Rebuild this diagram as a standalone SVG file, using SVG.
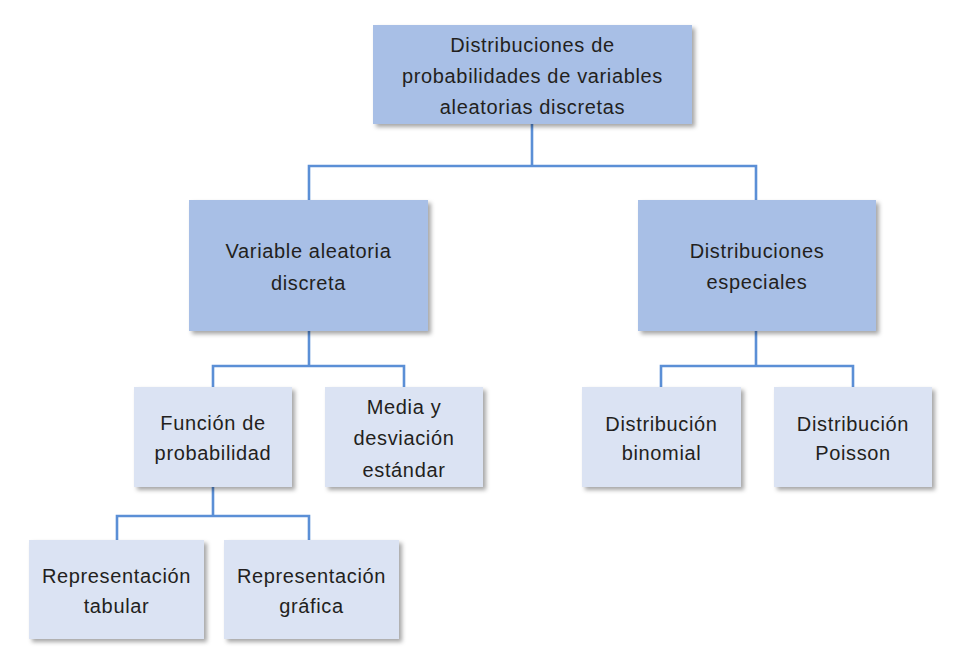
<svg xmlns="http://www.w3.org/2000/svg" width="969" height="668" viewBox="0 0 969 668">
<style>
.dark{fill:#a8bfe6;filter:url(#sh)}
.light{fill:#dbe3f3;filter:url(#sh)}
text{font-family:"Liberation Sans",Arial,sans-serif;font-size:20px;letter-spacing:0.65px;fill:#231f20;text-anchor:middle}
.con{fill:none;stroke:#5b8fd6;stroke-width:2.6}
</style>
<defs>
<filter id="sh" x="-10%" y="-10%" width="125%" height="130%">
<feDropShadow dx="3" dy="3" stdDeviation="2" flood-color="#000" flood-opacity="0.35"/>
</filter>
</defs>
<rect width="969" height="668" fill="#fff"/>
<g id="connectors" class="con">
<path d="M532 124V166M309 200V166H756V200"/>
<path d="M309 331V366M213 387V366H404V387"/>
<path d="M756 331V366M661 387V366H853V387"/>
<path d="M213 487V516M117 540V516H309V540"/>
</g>
<g id="root">
<rect class="dark" x="373" y="25" width="319" height="99"/>
<text x="532.5" y="52">Distribuciones de</text>
<text x="532.5" y="83">probabilidades de variables</text>
<text x="532.5" y="114">aleatorias discretas</text>
</g>
<g id="variable">
<rect class="dark" x="189" y="200" width="239" height="131"/>
<text x="308.5" y="258">Variable aleatoria</text>
<text x="308.5" y="290">discreta</text>
</g>
<g id="especiales">
<rect class="dark" x="638" y="200" width="238" height="131"/>
<text x="757" y="258">Distribuciones</text>
<text x="757" y="289">especiales</text>
</g>
<g id="funcion">
<rect class="light" x="134" y="387" width="158" height="100"/>
<text x="213" y="430">Función de</text>
<text x="213" y="460">probabilidad</text>
</g>
<g id="media">
<rect class="light" x="325" y="387" width="158" height="100"/>
<text x="404" y="414">Media y</text>
<text x="404" y="445">desviación</text>
<text x="404" y="477">estándar</text>
</g>
<g id="binomial">
<rect class="light" x="582" y="387" width="159" height="100"/>
<text x="661.5" y="431">Distribución</text>
<text x="661.5" y="460">binomial</text>
</g>
<g id="poisson">
<rect class="light" x="774" y="387" width="158" height="100"/>
<text x="853" y="431">Distribución</text>
<text x="853" y="460">Poisson</text>
</g>
<g id="tabular">
<rect class="light" x="29" y="540" width="175" height="99"/>
<text x="116.5" y="583">Representación</text>
<text x="116.5" y="613">tabular</text>
</g>
<g id="grafica">
<rect class="light" x="224" y="540" width="175" height="99"/>
<text x="311.5" y="583">Representación</text>
<text x="311.5" y="613">gráfica</text>
</g>
</svg>
